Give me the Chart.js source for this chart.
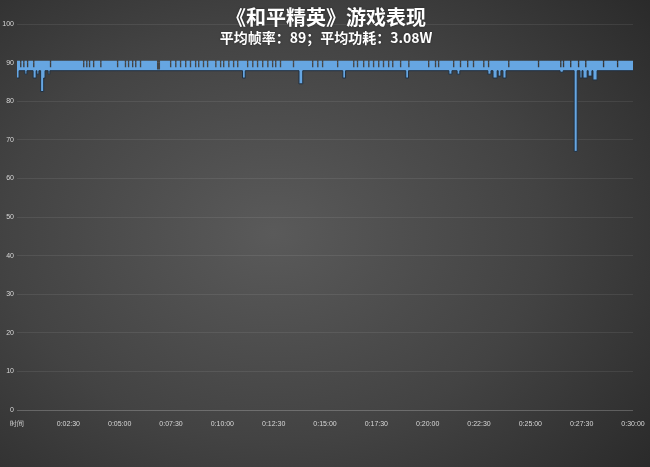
<!DOCTYPE html>
<html>
<head>
<meta charset="utf-8">
<script src="https://cdn.jsdelivr.net/npm/chart.js@4.4.0/dist/chart.umd.min.js"></script>
<style>
  html, body { margin: 0; padding: 0; }
  body {
    width: 650px; height: 467px; overflow: hidden;
    background: radial-gradient(ellipse 75% 80% at 42% 50%, #5a5a5a 0%, #434343 55%, #2a2a2a 100%);
  }
  #wrap { position: relative; width: 650px; height: 467px; }
</style>
</head>
<body>
<div id="wrap"><canvas id="fpsChart"></canvas></div>

<script>
// title text
const chartTitle = '《和平精英》游戏表现';
const chartSubtitle = '平均帧率：89；平均功耗：3.08W';

// x axis: seconds of play, tick every 2:30
const xTickLabels = ['时间', '0:02:30', '0:05:00', '0:07:30', '0:10:00', '0:12:30', '0:15:00',
  '0:17:30', '0:20:00', '0:22:30', '0:25:00', '0:27:30', '0:30:00'];
const yTickValues = [0, 10, 20, 30, 40, 50, 60, 70, 80, 90, 100];

// upper edge of the fps band (time in s, fps) - short notches where it drops
const topTimes = [0, 9, 13, 18, 22, 29, 33, 47, 51, 96, 100, 193, 197, 202, 206, 210, 214, 222, 226,
  243, 247, 292, 296, 315, 319, 324, 328, 336, 340, 345, 349, 359, 363, 409, 418, 447, 451, 462, 466,
  476, 480, 491, 495, 505, 509, 520, 524, 529, 533, 543, 547, 555, 559, 579, 583, 593, 597, 602, 606,
  617, 621, 631, 635, 643, 647, 672, 676, 687, 691, 701, 705, 716, 720, 731, 735, 745, 749, 754, 758,
  768, 772, 806, 810, 862, 866, 877, 881, 891, 895, 935, 939, 982, 986, 993, 997, 1011, 1015, 1026, 1030,
  1040, 1044, 1055, 1059, 1069, 1073, 1084, 1088, 1096, 1100, 1119, 1123, 1143, 1147, 1201, 1205,
  1221, 1225, 1230, 1234, 1274, 1278, 1294, 1298, 1315, 1319, 1332, 1336, 1362, 1366, 1376, 1380,
  1435, 1439, 1522, 1526, 1587, 1591, 1595, 1599, 1616, 1620, 1639, 1643, 1660, 1664, 1712, 1716,
  1753, 1757, 1800];
const topFps = [90.5, 88.8, 90.5, 88.8, 90.5, 88.8, 90.5, 88.8, 90.5, 88.8, 90.5, 88.8, 90.5, 88.8, 90.5, 88.8, 90.5, 88.8, 90.5,
  88.8, 90.5, 88.8, 90.5, 88.8, 90.5, 88.8, 90.5, 88.8, 90.5, 88.8, 90.5, 88.8, 90.5, 88.2, 90.5, 88.8, 90.5, 88.8, 90.5,
  88.8, 90.5, 88.8, 90.5, 88.8, 90.5, 88.8, 90.5, 88.8, 90.5, 88.8, 90.5, 88.8, 90.5, 88.8, 90.5, 88.8, 90.5, 88.8, 90.5,
  88.8, 90.5, 88.8, 90.5, 88.8, 90.5, 88.8, 90.5, 88.8, 90.5, 88.8, 90.5, 88.8, 90.5, 88.8, 90.5, 88.8, 90.5, 88.8, 90.5,
  88.8, 90.5, 88.8, 90.5, 88.8, 90.5, 88.8, 90.5, 88.8, 90.5, 88.8, 90.5, 88.8, 90.5, 88.8, 90.5, 88.8, 90.5, 88.8, 90.5,
  88.8, 90.5, 88.8, 90.5, 88.8, 90.5, 88.8, 90.5, 88.8, 90.5, 88.8, 90.5, 88.8, 90.5, 88.8, 90.5,
  88.8, 90.5, 88.8, 90.5, 88.8, 90.5, 88.8, 90.5, 88.8, 90.5, 88.8, 90.5, 88.8, 90.5, 88.8, 90.5,
  88.8, 90.5, 88.8, 90.5, 88.8, 90.5, 88.8, 90.5, 88.8, 90.5, 88.8, 90.5, 88.8, 90.5, 88.8, 90.5,
  88.8, 90.5, 90.5];

// lower edge of the fps band - the frame drops
const lowTimes = [0, 6, 23, 29, 47, 56, 58, 64, 69, 78, 82, 91, 96, 659, 667, 824, 835, 952, 960,
  1136, 1144, 1262, 1271, 1286, 1294, 1376, 1385, 1391, 1403, 1406, 1414, 1420, 1429, 1587, 1596,
  1628, 1637, 1645, 1651, 1654, 1666, 1669, 1680, 1683, 1695, 1800];
const lowFps = [86, 87.9, 87, 87.9, 86, 87.9, 87, 87.9, 82.5, 86, 87.9, 87, 87.9, 86, 87.9, 84.5, 87.9, 86, 87.9,
  86, 87.9, 87, 87.9, 87, 87.9, 87, 87.9, 86, 87.9, 86.5, 87.9, 86, 87.9, 87.5, 87.9,
  67, 87.9, 86, 87.9, 86, 87.9, 86.5, 87.9, 85.5, 87.9, 87.9];

const toPoints = (ts, vs) => ts.map((t, i) => ({ x: t, y: vs[i] }));

const titlePlugin = {
  id: 'titleText',
  afterDraw(chart) {
    const c = chart.ctx;
    c.save();
    c.textAlign = 'center';
    c.textBaseline = 'middle';
    c.fillStyle = '#ffffff';
    c.shadowColor = 'rgba(0,0,0,0.5)';
    c.shadowBlur = 2;
    c.font = 'bold 20px "Noto Sans CJK SC"';
    c.fillText(chartTitle, 326, 17);
    c.font = 'bold 14px "Noto Sans CJK SC"';
    c.fillText(chartSubtitle, 326, 38);
    c.restore();
  }
};

new Chart(document.getElementById('fpsChart'), {
  type: 'line',
  data: {
    datasets: [{
      label: 'top',
      data: toPoints(topTimes, topFps),
      stepped: 'before',
      borderWidth: 0,
      pointRadius: 0,
      fill: false
    }, {
      label: '帧率',
      data: toPoints(lowTimes, lowFps),
      stepped: 'before',
      borderColor: '#22303f',
      borderWidth: 1,
      pointRadius: 0,
      backgroundColor: '#66a6e2',
      fill: '-1'
    }]
  },
  options: {
    responsive: true,
    maintainAspectRatio: false,
    animation: false,
    layout: { padding: { top: 24, right: 17, bottom: 37, left: 0 } },
    plugins: { legend: { display: false }, tooltip: { enabled: false } },
    scales: {
      x: {
        type: 'linear',
        min: 0,
        max: 1800,
        afterBuildTicks: (s) => { s.ticks = xTickLabels.map((l, i) => ({ value: i * 150 })); },
        afterFit: (s) => { s.height = 20; },
        ticks: {
          autoSkip: false,
          maxRotation: 0,
          padding: 2,
          color: '#d8d8d8',
          font: { family: 'Liberation Sans', size: 7 },
          callback: (v, i) => xTickLabels[i]
        },
        grid: { display: false },
        border: { display: false }
      },
      y: {
        min: 0,
        max: 100,
        afterBuildTicks: (s) => { s.ticks = yTickValues.map(v => ({ value: v })); },
        afterFit: (s) => { s.width = 17; },
        ticks: {
          padding: 3,
          color: '#d8d8d8',
          font: { family: 'Liberation Sans', size: 7 }
        },
        grid: {
          drawTicks: false,
          color: (c) => c.tick && c.tick.value === 0 ? 'rgba(255,255,255,0.22)' : 'rgba(255,255,255,0.08)'
        },
        border: { display: false }
      }
    }
  },
  plugins: [titlePlugin]
});
</script>
</body>
</html>
